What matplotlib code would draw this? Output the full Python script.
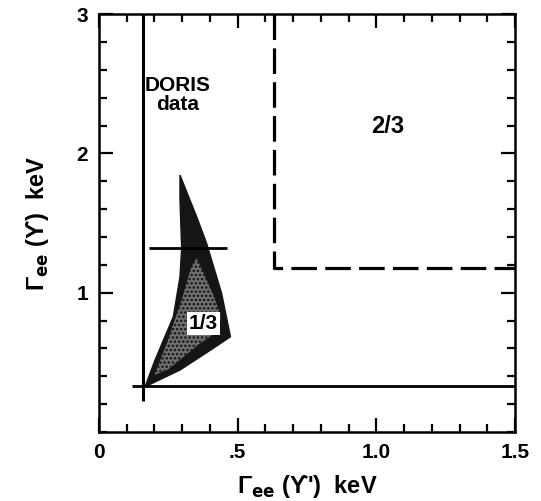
import matplotlib
matplotlib.use("Agg")
import matplotlib.pyplot as plt
from matplotlib.ticker import MultipleLocator, FixedLocator
from matplotlib.patches import Polygon

# ---- data ----
doris_outer_x = [0.292, 0.352, 0.388, 0.442, 0.474, 0.412, 0.292, 0.166,
                 0.202, 0.268, 0.292, 0.298, 0.292]
doris_outer_y = [1.845, 1.546, 1.355, 0.996, 0.684, 0.601, 0.445, 0.325,
                 0.517, 0.828, 1.115, 1.319, 1.665]
doris_inner_x = [0.352, 0.410, 0.440, 0.425, 0.360, 0.250, 0.200, 0.245,
                 0.300, 0.330]
doris_inner_y = [1.250, 0.996, 0.830, 0.720, 0.630, 0.450, 0.410, 0.640,
                 0.960, 1.170]

limit_v_x = [0.16, 0.16]          # solid vertical bound
limit_v_y = [0.22, 3.0]
limit_h_x = [0.12, 1.5]           # solid horizontal bound
limit_h_y = [0.33, 0.33]
dash_x = [0.63, 0.63, 1.5]        # dashed 2/3 bound
dash_y = [3.0, 1.18, 1.18]
bar_x = [0.18, 0.46]              # short horizontal mark
bar_y = [1.32, 1.32]

xtick_vals = [0, 0.5, 1.0, 1.5]
xtick_labels = ["0", ".5", "1.0", "1.5"]
ytick_vals = [1, 2, 3]
ytick_labels = ["1", "2", "3"]

FAM = ["Liberation Sans", "DejaVu Sans"]
plt.rcParams["font.family"] = FAM
plt.rcParams["hatch.color"] = "#111111"
plt.rcParams["hatch.linewidth"] = 1.2

fig = plt.figure(figsize=(5.41, 5.01), dpi=100)
ax = fig.add_axes([0.183, 0.1377, 0.769, 0.834])
ax.set_xlim(0, 1.5)
ax.set_ylim(0, 3)

# shaded DORIS region
ax.add_patch(Polygon(list(zip(doris_outer_x, doris_outer_y)), closed=True,
                     facecolor="#151515", edgecolor="#151515", lw=1, zorder=2))
ax.add_patch(Polygon(list(zip(doris_inner_x, doris_inner_y)), closed=True,
                     facecolor="#707070", edgecolor="#111111", hatch="....",
                     lw=0, zorder=3))

# bounds
ax.plot(limit_v_x, limit_v_y, color="black", lw=2.2, solid_capstyle="butt", zorder=4)
ax.plot(limit_h_x, limit_h_y, color="black", lw=2.0, solid_capstyle="butt", zorder=4)
ax.plot(dash_x, dash_y, color="black", lw=2.3, dashes=(8, 2.6), zorder=4)
ax.plot(bar_x, bar_y, color="black", lw=2.0, solid_capstyle="butt", zorder=5)

# texts
ax.text(0.285, 2.42, "DORIS\ndata", ha="center", va="center", fontsize=15,
        fontweight="bold", linespacing=1.05, family=FAM)
ax.text(1.04, 2.19, "2/3", ha="center", va="center", fontsize=17,
        fontweight="bold", family=FAM)
ax.text(0.376, 0.78, "1/3", ha="center", va="center", fontsize=15,
        fontweight="bold", family=FAM, zorder=6,
        bbox=dict(boxstyle="square,pad=0.1", facecolor="white", edgecolor="none"))

# ticks
ax.xaxis.set_major_locator(FixedLocator(xtick_vals))
ax.set_xticklabels(xtick_labels)
ax.xaxis.set_minor_locator(MultipleLocator(0.1))
ax.yaxis.set_major_locator(FixedLocator(ytick_vals))
ax.set_yticklabels(ytick_labels)
ax.yaxis.set_minor_locator(MultipleLocator(0.2))
ax.tick_params(which="both", direction="in", top=True, right=True,
               color="black", width=1.6)
ax.tick_params(which="major", length=10, labelsize=15, pad=8)
ax.tick_params(which="minor", length=6)
for lab in ax.get_xticklabels() + ax.get_yticklabels():
    lab.set_fontweight("bold")
for sp in ax.spines.values():
    sp.set_linewidth(1.8)

ax.set_xlabel("Γ$_{\\mathbf{ee}}$ (ϒ')  keV", fontsize=17, fontweight="bold",
              labelpad=8)
ax.set_ylabel("Γ$_{\\mathbf{ee}}$ (ϒ)  keV", fontsize=17, fontweight="bold",
              labelpad=18)

fig.savefig("out.png", dpi=100)
